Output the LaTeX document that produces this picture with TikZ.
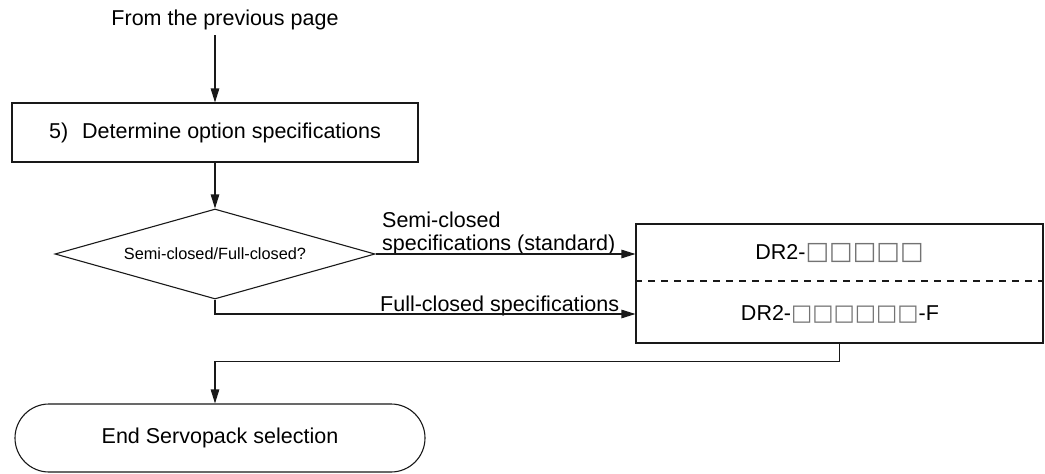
\documentclass[tikz,border=0pt]{standalone}
\usepackage{fontspec}
\setmainfont{Liberation Sans}
\newfontfamily\symfont{DejaVu Sans}
\usetikzlibrary{arrows.meta,shapes.geometric,shapes.misc}
\newcommand{\sqa}{{\symfont\color{black!55}\fontsize{25}{25}\selectfont □}}
\newcommand{\sqb}{{\symfont\color{black!55}\fontsize{22.5}{25}\selectfont □}}
\tikzset{
  every node/.style={font=\fontsize{21.5}{23}\selectfont},
  line/.style={line width=1.1pt, draw=black!90},
  arr/.style={line, -{Triangle[length=14pt,width=8.5pt]}},
  procbox/.style={draw=black!90, line width=1.1pt, rectangle, inner sep=0pt},
  decision/.style={draw=black!90, line width=1.1pt, diamond, inner sep=0pt, aspect=3.56,
     minimum width=320pt, minimum height=90pt, font=\fontsize{16.3}{18}\selectfont},
  terminal/.style={draw=black!90, line width=1.1pt, rounded rectangle, inner sep=0pt,
     minimum width=410pt, minimum height=68pt},
  lbl/.style={inner sep=0pt, anchor=base west, align=left}
}
\begin{document}
\begin{tikzpicture}[x=1pt,y=-1pt]
\useasboundingbox (0,0) rectangle (1045,474);
\node[inner sep=0pt, anchor=base] (from) at (225,25) {From the previous page};
\coordinate (fromend) at (215,35);
\node[procbox, minimum width=406pt, minimum height=59pt] (opt) at (215,132.5)
  {5)\hspace{14pt}Determine option specifications};
\node[decision] (dia) at (215,254) {Semi-closed/Full-closed?};
\node[procbox, minimum width=407pt, minimum height=119pt] (dr) at (839.5,283.5) {};
\node[inner sep=0pt] (dra) at (839.5,253) {DR2-\sqa\sqa\sqa\sqa\sqa};
\node[inner sep=0pt] (drb) at (840,314) {DR2-\sqb\sqb\sqb\sqb\sqb\sqb-F};
\coordinate (mid) at (839.5,281);
\node[terminal] (end) at (220,438) {End Servopack selection};
% labels
\node[lbl] (lsemi1) at (382,227) {Semi-closed};
\node[lbl] (lsemi2) at (382,250) {specifications (standard)};
\node[lbl] (lfull) at (380,311) {Full-closed specifications};
% connectors
\draw[arr] (fromend) -- (opt.north);
\draw[arr] (opt.south) -- (dia.north);
\draw[arr] (dia.east) -- (dia.east -| dr.west);
\draw[arr] (dia.south) |- (drb -| dr.west);
\draw[line, dash pattern=on 7pt off 6pt] (mid -| dr.west) -- (mid -| dr.east);
\draw[arr] (dr.south) -- ++(0,18) -| (opt.south |- end.north);
\end{tikzpicture}
\end{document}
